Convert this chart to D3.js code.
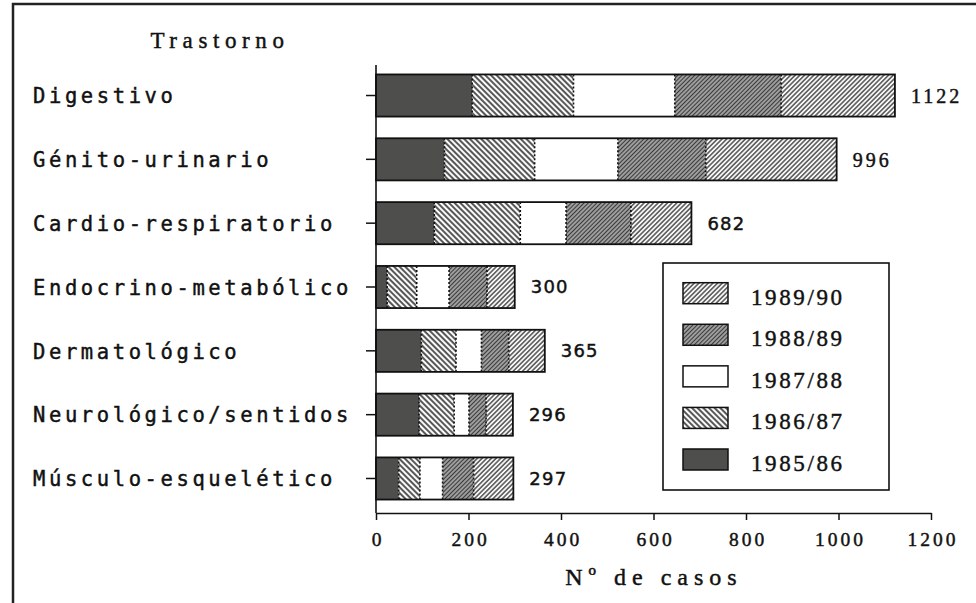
<!DOCTYPE html>
<html lang="es">
<head>
    <meta charset="UTF-8">
    <title>Trastorno - Nº de casos</title>
    <script src="https://cdnjs.cloudflare.com/ajax/libs/d3/7.9.0/d3.min.js"></script>
    <style>
        body { margin: 0; background: #fff; }
        svg { display: block; }
        text { stroke: #111; stroke-width: 0.45px; }
    </style>
</head>
<body>
    <svg width="976" height="603"></svg>

    <script>
        // datos
        const categories = ["Digestivo", "Génito-urinario", "Cardio-respiratorio",
            "Endocrino-metabólico", "Dermatológico", "Neurológico/sentidos", "Músculo-esquelético"];
        const seasons = ["1985/86", "1986/87", "1987/88", "1988/89", "1989/90"];
        const v8586 = [208, 148, 126, 24, 98, 93, 49];
        const v8687 = [219, 195, 186, 64, 75, 76, 46];
        const v8788 = [219, 180, 99, 70, 55, 32, 49];
        const v8889 = [230, 190, 140, 82, 59, 37, 67];
        const v8990 = [246, 283, 131, 60, 78, 58, 86];
        const totals = [1122, 996, 682, 300, 365, 296, 297];
        const xTicks = [0, 200, 400, 600, 800, 1000, 1200];

        const series = [v8586, v8687, v8788, v8889, v8990];

        const SERIF = "'Liberation Serif', 'DejaVu Serif', serif";
        const MONO = "'DejaVu Sans Mono', 'Liberation Mono', monospace";
        const SANS = "'DejaVu Sans', 'Liberation Sans', sans-serif";

        const svg = d3.select("svg");

        // patrones de relleno
        const defs = svg.append("defs");
        function hatch(id, size, angle, bg, ink, sw) {
            const p = defs.append("pattern")
                .attr("id", id)
                .attr("patternUnits", "userSpaceOnUse")
                .attr("width", size).attr("height", size)
                .attr("patternTransform", `rotate(${angle})`);
            p.append("rect").attr("width", size).attr("height", size).attr("fill", bg);
            p.append("line")
                .attr("x1", size / 2).attr("y1", 0)
                .attr("x2", size / 2).attr("y2", size)
                .attr("stroke", ink).attr("stroke-width", sw);
        }
        hatch("h86", 4, -45, "#fafafa", "#222", 1.5);
        hatch("h88", 3, 45, "#a8a8a8", "#3a3a3a", 1.2);
        hatch("h89", 3.3, 45, "#f8f8f8", "#2a2a2a", 1.2);

        const fills = ["#4e4e4c", "url(#h86)", "#ffffff", "url(#h88)", "url(#h89)"];

        // marco exterior
        svg.append("path")
            .attr("d", "M13,603 L13,4 L976,4")
            .attr("fill", "none")
            .attr("stroke", "#222")
            .attr("stroke-width", 2.5);

        const x = d3.scaleLinear().domain([0, 1200]).range([376, 931]);
        const y = d3.scaleBand().domain(categories)
            .range([55.3, 518.7])
            .paddingInner(0.34).paddingOuter(0.3);

        // apilar
        const rows = categories.map((c, i) => {
            let acc = 0;
            return series.map((s, k) => {
                const seg = { cat: c, k: k, x0: acc, x1: acc + s[i] };
                acc += s[i];
                return seg;
            });
        });

        const bars = svg.append("g");
        rows.forEach((segs, i) => {
            const g = bars.append("g");
            g.selectAll("rect.seg")
                .data(segs)
                .join("rect")
                .attr("class", "seg")
                .attr("x", d => x(d.x0))
                .attr("y", d => y(d.cat))
                .attr("width", d => x(d.x1) - x(d.x0))
                .attr("height", y.bandwidth())
                .attr("fill", d => fills[d.k]);

            // divisiones punteadas
            g.selectAll("line.div")
                .data(segs.slice(1))
                .join("line")
                .attr("class", "div")
                .attr("x1", d => x(d.x0)).attr("x2", d => x(d.x0))
                .attr("y1", y(categories[i])).attr("y2", y(categories[i]) + y.bandwidth())
                .attr("stroke", "#111")
                .attr("stroke-width", 1.6)
                .attr("stroke-dasharray", "2,2");

            const last = segs[segs.length - 1];
            g.append("rect")
                .attr("x", x(0))
                .attr("y", y(categories[i]))
                .attr("width", x(last.x1) - x(0))
                .attr("height", y.bandwidth())
                .attr("fill", "none")
                .attr("stroke", "#111")
                .attr("stroke-width", 1.8);
        });

        // etiquetas de totales
        const serifLabels = new Set(["Digestivo", "Génito-urinario"]);
        svg.append("g").selectAll("text")
            .data(categories)
            .join("text")
            .attr("x", (d, i) => x(totals[i]) + 16)
            .attr("y", d => y(d) + y.bandwidth() / 2)
            .attr("dy", "0.36em")
            .style("font-family", d => serifLabels.has(d) ? SERIF : SANS)
            .attr("font-size", d => serifLabels.has(d) ? 20 : 18)
            .attr("letter-spacing", d => serifLabels.has(d) ? 3 : 1.2)
            .attr("fill", "#111")
            .text((d, i) => totals[i]);

        // eje Y
        const yAxis = svg.append("g")
            .attr("transform", `translate(${x(0)},0)`)
            .call(d3.axisLeft(y).tickSize(10).tickFormat(""));
        yAxis.select(".domain").remove();
        yAxis.selectAll(".tick line").attr("stroke", "#111").attr("stroke-width", 1.5);
        svg.append("line")
            .attr("x1", x(0)).attr("x2", x(0))
            .attr("y1", 65).attr("y2", 513)
            .attr("stroke", "#111").attr("stroke-width", 1.6);

        svg.append("g").selectAll("text")
            .data(categories)
            .join("text")
            .attr("x", 33)
            .attr("y", d => y(d) + y.bandwidth() / 2)
            .attr("dy", "0.38em")
            .style("font-family", MONO)
            .attr("font-size", 20.5)
            .attr("letter-spacing", 3.6)
            .attr("fill", "#111")
            .text(d => d);

        svg.append("text")
            .attr("x", 217).attr("y", 40)
            .attr("dy", "0.34em")
            .attr("dx", 3)
            .attr("text-anchor", "middle")
            .style("font-family", SERIF)
            .attr("font-size", 23)
            .attr("letter-spacing", 5.6)
            .attr("fill", "#111")
            .text("Trastorno");

        // eje X
        const xAxis = svg.append("g")
            .attr("transform", "translate(0,513)")
            .call(d3.axisBottom(x).tickValues(xTicks).tickFormat(d3.format("d"))
                .tickSize(7).tickSizeOuter(0).tickPadding(12));
        xAxis.select(".domain").attr("stroke", "#111").attr("stroke-width", 1.6);
        xAxis.selectAll(".tick line").attr("stroke", "#111").attr("stroke-width", 1.5);
        xAxis.selectAll(".tick text")
            .style("font-family", SERIF)
            .attr("font-size", 19.5)
            .attr("letter-spacing", 3)
            .attr("dx", 1.5)
            .attr("fill", "#111");

        svg.append("text")
            .attr("x", 651).attr("y", 577)
            .attr("dy", "0.34em")
            .attr("dx", 3)
            .attr("text-anchor", "middle")
            .style("font-family", SERIF)
            .attr("font-size", 24)
            .attr("letter-spacing", 6)
            .attr("fill", "#111")
            .text("Nº de casos");

        // leyenda (orden inverso)
        const legend = svg.append("g");
        legend.append("rect")
            .attr("x", 663).attr("y", 263)
            .attr("width", 226).attr("height", 227)
            .attr("fill", "#fff")
            .attr("stroke", "#111").attr("stroke-width", 1.6);

        const legendY = d3.scalePoint()
            .domain(seasons.slice().reverse())
            .range([282.7, 449]);

        const items = legend.selectAll("g.item")
            .data(seasons.map((s, k) => ({ s, k })))
            .join("g")
            .attr("class", "item")
            .attr("transform", d => `translate(683,${legendY(d.s)})`);
        items.append("rect")
            .attr("width", 45).attr("height", 21)
            .attr("fill", d => fills[d.k])
            .attr("stroke", "#111").attr("stroke-width", 1.5);
        items.append("text")
            .attr("x", 68).attr("y", 10.5)
            .attr("dy", "0.5em")
            .style("font-family", SERIF)
            .attr("font-size", 23)
            .attr("letter-spacing", 2.6)
            .attr("fill", "#111")
            .text(d => d.s);
    </script>
</body>
</html>
